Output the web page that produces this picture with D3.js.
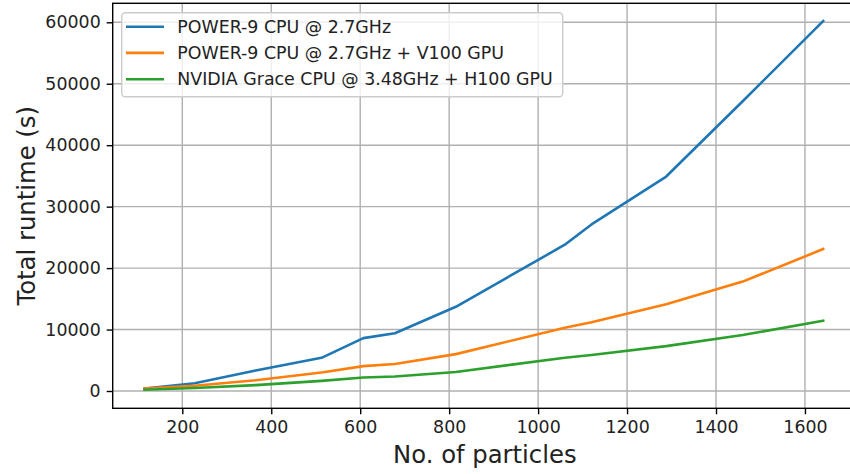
<!DOCTYPE html>
<html>
<head>
<meta charset="utf-8">
<script src="https://cdn.jsdelivr.net/npm/d3@7"></script>
<style>
  html, body { margin: 0; padding: 0; background: #fff; }
  svg { display: block; font-family: "DejaVu Sans", sans-serif; }
</style>
</head>
<body>
<svg id="chart" width="850" height="474"></svg>
<script>
// Number of particles simulated
const particles = [115, 228, 365, 513, 607, 678, 815, 1060, 1120, 1288, 1460, 1641];

// Total runtime in seconds for each hardware configuration
const power9Cpu   = [400, 1250, 3350, 5400, 8600, 9400, 13700, 23800, 27100, 34900, 47150, 60200];
const power9V100  = [400, 850, 1750, 3000, 4050, 4400, 6000, 10300, 11200, 14100, 17800, 23100];
const graceH100   = [200, 500, 950, 1650, 2200, 2350, 3100, 5400, 5850, 7300, 9100, 11450];

const seriesNames  = ["POWER-9 CPU @ 2.7GHz", "POWER-9 CPU @ 2.7GHz + V100 GPU", "NVIDIA Grace CPU @ 3.48GHz + H100 GPU"];
const seriesColors = ["#1f77b4", "#ff7f0e", "#2ca02c"];

const xTicks = [200, 400, 600, 800, 1000, 1200, 1400, 1600];
const yTicks = [0, 10000, 20000, 30000, 40000, 50000, 60000];

const series = [power9Cpu, power9V100, graceH100].map((vals, i) => ({
  name: seriesNames[i],
  color: seriesColors[i],
  points: particles.map((p, j) => ({ x: p, y: vals[j] }))
}));

const svg = d3.select("#chart");
const plot = { left: 112.7, right: 857, top: 3.3, bottom: 408.3 };

const x = d3.scaleLinear().domain([43.5, 1717]).range([plot.left, plot.right]);
const y = d3.scaleLinear().domain([-2815, 63090]).range([plot.bottom, plot.top]);

const tickFont = 17.4;

// grid
const grid = svg.append("g");
grid.selectAll("line.gx").data(xTicks).join("line")
  .attr("x1", d => x(d)).attr("x2", d => x(d))
  .attr("y1", plot.top).attr("y2", plot.bottom)
  .attr("stroke", "#b0b0b0").attr("stroke-width", 1.4);
grid.selectAll("line.gy").data(yTicks).join("line")
  .attr("x1", plot.left).attr("x2", plot.right)
  .attr("y1", d => y(d)).attr("y2", d => y(d))
  .attr("stroke", "#b0b0b0").attr("stroke-width", 1.4);

// lines
svg.append("clipPath").attr("id", "clip").append("rect")
  .attr("x", plot.left).attr("y", plot.top)
  .attr("width", plot.right - plot.left).attr("height", plot.bottom - plot.top);

const line = d3.line().x(d => x(d.x)).y(d => y(d.y));
svg.append("g").attr("clip-path", "url(#clip)")
  .selectAll("path").data(series).join("path")
  .attr("d", d => line(d.points))
  .attr("fill", "none")
  .attr("stroke", d => d.color)
  .attr("stroke-width", 2.6)
  .attr("stroke-linejoin", "round")
  .attr("stroke-linecap", "square");

// axes
const xAxis = svg.append("g")
  .attr("transform", `translate(0,${plot.bottom})`)
  .call(d3.axisBottom(x).tickValues(xTicks).tickFormat(d3.format("d")).tickSize(6).tickPadding(6).tickSizeOuter(0));
const yAxis = svg.append("g")
  .attr("transform", `translate(${plot.left},0)`)
  .call(d3.axisLeft(y).tickValues(yTicks).tickFormat(d3.format("d")).tickSize(6).tickPadding(6).tickSizeOuter(0));

[xAxis, yAxis].forEach(g => {
  g.select(".domain").remove();
  g.selectAll(".tick line").attr("stroke", "#000").attr("stroke-width", 1.4);
  g.selectAll(".tick text").attr("fill", "#222").attr("font-size", tickFont)
    .attr("font-family", "DejaVu Sans");
});

// spines
const spines = svg.append("g").attr("stroke", "#000").attr("stroke-width", 1.4).attr("fill", "none");
spines.append("rect")
  .attr("x", plot.left).attr("y", plot.top)
  .attr("width", plot.right - plot.left).attr("height", plot.bottom - plot.top);

// axis titles
svg.append("text")
  .attr("x", (plot.left + plot.right) / 2).attr("y", 463)
  .attr("text-anchor", "middle").attr("font-size", 24.3).attr("fill", "#222")
  .text("No. of particles");
svg.append("text")
  .attr("transform", `translate(26,${(plot.top + plot.bottom) / 2}) rotate(-90)`)
  .attr("text-anchor", "middle").attr("dominant-baseline", "central")
  .attr("font-size", 24.3).attr("fill", "#222")
  .text("Total runtime (s)");

// legend
const legend = svg.append("g");
legend.append("rect")
  .attr("x", 121.7).attr("y", 12.7).attr("width", 441).attr("height", 84)
  .attr("rx", 3.5).attr("ry", 3.5)
  .attr("fill", "#fff").attr("fill-opacity", 0.8)
  .attr("stroke", "#cccccc").attr("stroke-width", 1.4);
const rowY = [26.7, 52.9, 79.3];
const rows = legend.selectAll("g.row").data(series).join("g")
  .attr("transform", (d, i) => `translate(0,${rowY[i]})`);
rows.append("line")
  .attr("x1", 126).attr("x2", 164).attr("y1", 0).attr("y2", 0)
  .attr("stroke", d => d.color).attr("stroke-width", 2.6);
rows.append("text")
  .attr("x", 177.3).attr("y", 0).attr("dominant-baseline", "central")
  .attr("font-size", tickFont).attr("fill", "#222")
  .text(d => d.name);
</script>
</body>
</html>
